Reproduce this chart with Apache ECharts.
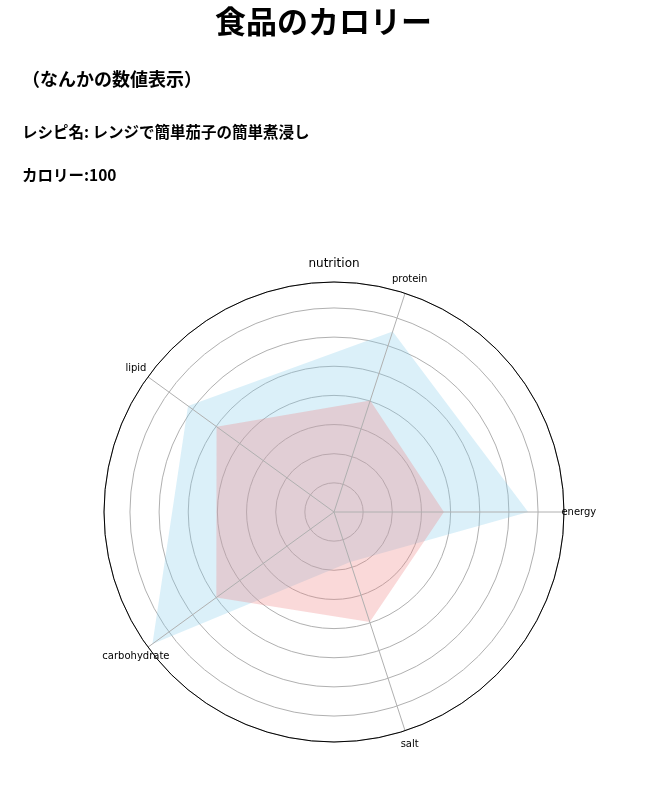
<!DOCTYPE html>
<html>
<head>
<meta charset="utf-8">
<script src="https://cdn.jsdelivr.net/npm/echarts@6/dist/echarts.min.js"></script>
<style>
  html, body { margin: 0; padding: 0; background: #fff; }
  #chart { width: 647px; height: 804px; }
</style>
</head>
<body>
<div id="chart"></div>
<script>
// ---- data ----
const mainTitle = '食品のカロリー';
const subTitle = '（なんかの数値表示）';
const recipeName = 'レンジで簡単茄子の簡単煮浸し';
const calorie = 100;
const chartTitle = 'nutrition';
const categories = ['energy', 'protein', 'lipid', 'carbohydrate', 'salt'];
const blueValues = [6.66, 6.51, 6.19, 7.7, 1.8];
const pinkValues = [3.77, 4.02, 4.98, 4.99, 3.97];
const radiusMax = 7.89;
const ringInterval = 1;
const labelRadius = 8.4;

// ---- build ----
const step = 360 / categories.length;
function closedPolygon(vals) {
  const pts = vals.map((v, i) => [v, i * step]);
  pts.push([vals[0], 360]);
  return pts;
}
const jpFont = "'Noto Sans CJK JP', 'Noto Sans', sans-serif";
const jpStyle = (size) => ({ fontFamily: jpFont, fontWeight: 'bold', fontSize: size, color: '#000' });

const chart = echarts.init(document.getElementById('chart'), null, { renderer: 'canvas' });
chart.setOption({
  backgroundColor: '#fff',
  animation: false,
  title: [
    { text: mainTitle, left: 'center', top: 6, padding: 0, textStyle: jpStyle(31) },
    { text: subTitle, left: 22, top: 70, padding: 0, textStyle: jpStyle(18) },
    { text: 'レシピ名: ' + recipeName, left: 22, top: 124, padding: 0, textStyle: jpStyle(15.5) },
    { text: 'カロリー:' + calorie, left: 22, top: 167, padding: 0, textStyle: jpStyle(15.5) },
    { text: chartTitle, left: 334, textAlign: 'center', top: 258, padding: 0,
      textStyle: { fontFamily: 'DejaVu Sans', fontWeight: 'normal', fontSize: 12, color: '#000' } }
  ],
  polar: { center: [334, 512], radius: 230 },
  angleAxis: {
    type: 'value', min: 0, max: 360, interval: step,
    startAngle: 0, clockwise: false, z: 5,
    axisLine: { show: true, lineStyle: { color: '#000', width: 1 } },
    axisTick: { show: false },
    axisLabel: { show: false },
    splitLine: { show: true, lineStyle: { color: '#b0b0b0', width: 1 } }
  },
  radiusAxis: {
    type: 'value', min: 0, max: radiusMax, interval: ringInterval,
    axisLine: { show: false },
    axisTick: { show: false },
    axisLabel: { show: false },
    splitLine: { show: true, lineStyle: { color: '#b0b0b0', width: 1 } }
  },
  series: [
    {
      type: 'line', coordinateSystem: 'polar', data: closedPolygon(blueValues),
      symbol: 'none', silent: true,
      lineStyle: { opacity: 0, width: 0 },
      areaStyle: { color: 'rgba(135,206,235,0.3)', opacity: 1 }
    },
    {
      type: 'line', coordinateSystem: 'polar', data: closedPolygon(pinkValues),
      symbol: 'none', silent: true,
      lineStyle: { opacity: 0, width: 0 },
      areaStyle: { color: 'rgba(240,128,128,0.3)', opacity: 1 }
    },
    {
      type: 'scatter', coordinateSystem: 'polar', clip: false, silent: true,
      symbolSize: 1, z: 6,
      itemStyle: { color: 'transparent' },
      data: categories.map((c, i) => ({ name: c, value: [labelRadius, i * step] })),
      label: {
        show: true, position: 'inside', formatter: '{b}',
        fontFamily: 'DejaVu Sans', fontSize: 10, color: '#000',
        textBorderWidth: 0, opacity: 1
      }
    }
  ]
});
</script>
</body>
</html>
